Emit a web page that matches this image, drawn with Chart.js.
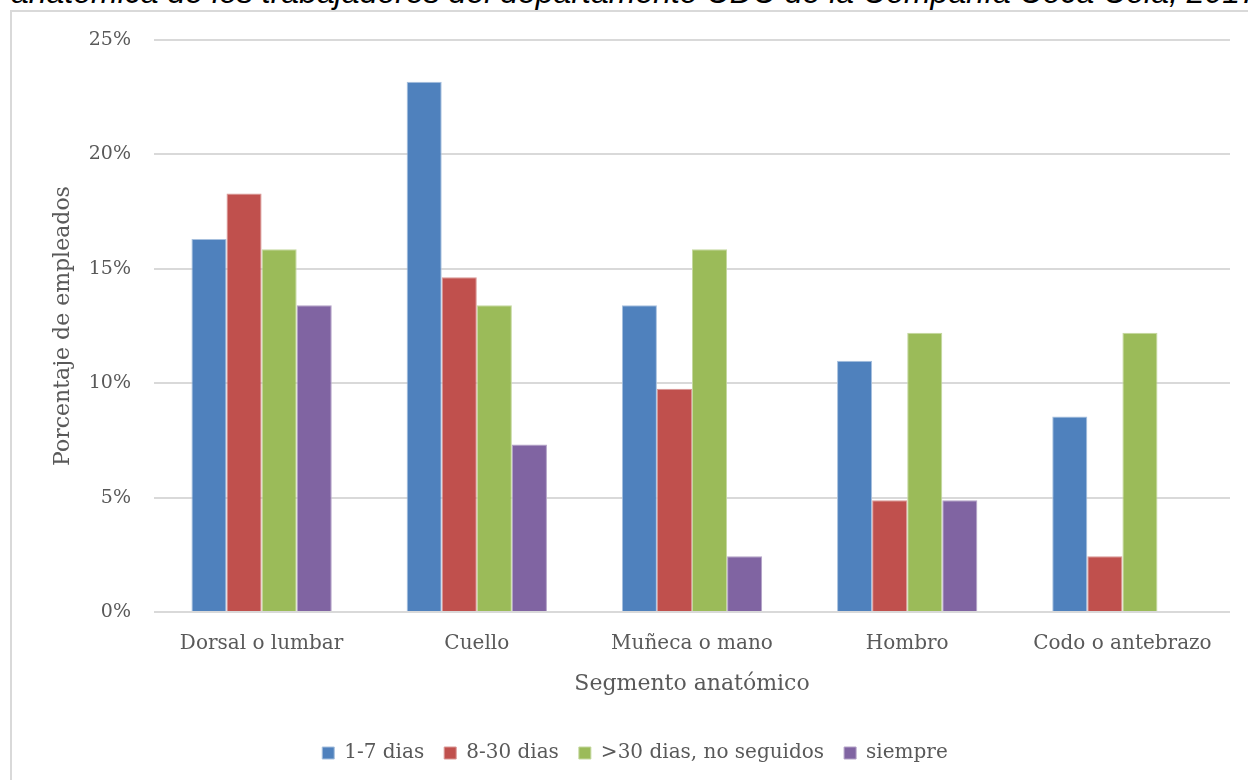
<!DOCTYPE html>
<html>
<head>
<meta charset="utf-8">
<script src="https://cdn.jsdelivr.net/npm/chart.js@4.4.1/dist/chart.umd.min.js"></script>
<style>
  html, body { margin: 0; padding: 0; background: #fff; }
  body { width: 1248px; height: 780px; position: relative; overflow: hidden; }
  .caption {
    position: absolute; left: 11px; top: -24px; white-space: nowrap;
    font: italic 32px "Liberation Sans", Arial, sans-serif; color: #000; line-height: 32px;
  }
  .frame {
    position: absolute; left: 10px; top: 10px; width: 1260px; height: 800px;
    border-left: 2px solid #d9d9d9; border-top: 2px solid #d9d9d9;
  }
  #wrap { position: absolute; left: 0; top: 0; width: 1248px; height: 780px; }
</style>
</head>
<body>
<div class="caption">anatómica de los trabajadores del departamento CDC de la Compañía Coca Cola, 2017</div>
<div class="frame"></div>
<div id="wrap"><canvas id="chart"></canvas></div>
<script>
// data (percent of employees)
const segments = ['Dorsal o lumbar', 'Cuello', 'Muñeca o mano', 'Hombro', 'Codo o antebrazo'];
const dias1a7   = [16.3, 23.17, 13.41, 10.98, 8.54];
const dias8a30  = [18.29, 14.63, 9.76, 4.88, 2.44];
const mas30     = [15.85, 13.41, 15.85, 12.2, 12.2];
const siempre   = [13.41, 7.32, 2.44, 4.88, 0];
const yTicks    = [0, 5, 10, 15, 20, 25];

const FONT = 'DejaVu Serif';
const TXT = '#595959';

new Chart(document.getElementById('chart'), {
  type: 'bar',
  data: {
    labels: segments,
    datasets: [
      { label: '1-7 dias', data: dias1a7, backgroundColor: '#4f81bd', borderColor: '#a7c0de', borderWidth: 1 },
      { label: '8-30 dias', data: dias8a30, backgroundColor: '#c0504d', borderColor: '#d99795', borderWidth: 1 },
      { label: '>30 dias, no seguidos', data: mas30, backgroundColor: '#9bbb59', borderColor: '#c4d89f', borderWidth: 1 },
      { label: 'siempre', data: siempre, backgroundColor: '#8064a2', borderColor: '#b3a2c7', borderWidth: 1 },
    ],
  },
  options: {
    responsive: true, maintainAspectRatio: false, animation: false,
    layout: { padding: { left: 40, top: 40, right: 18, bottom: 7 } },
    datasets: { bar: { categoryPercentage: 0.652, barPercentage: 1 } },
    plugins: {
      tooltip: { enabled: false },
      legend: {
        position: 'bottom',
        labels: { boxWidth: 12, boxHeight: 12, padding: 20, color: TXT, font: { family: FONT, size: 20 } },
      },
    },
    scales: {
      x: {
        grid: { display: false, drawTicks: false },
        border: { display: false },
        ticks: { color: TXT, padding: 20, font: { family: FONT, size: 20 } },
        title: { display: true, text: 'Segmento anatómico', color: TXT, padding: { top: 0, bottom: 26 }, font: { family: FONT, size: 22 } },
        afterFit: (s) => { s.height = 111; },
      },
      y: {
        min: 0, max: 25,
        afterBuildTicks: (s) => { s.ticks = yTicks.map((v) => ({ value: v })); },
        grid: { color: '#d9d9d9', lineWidth: 2, drawTicks: false },
        border: { display: false },
        ticks: { color: TXT, padding: 23, font: { family: FONT, size: 19 }, callback: (v) => v + '%' },
        title: { display: true, text: 'Porcentaje de empleados', color: TXT, padding: { top: 10 }, font: { family: FONT, size: 22 } },
        afterFit: (s) => { s.width = 114; },
      },
    },
  },
});
</script>
</body>
</html>
